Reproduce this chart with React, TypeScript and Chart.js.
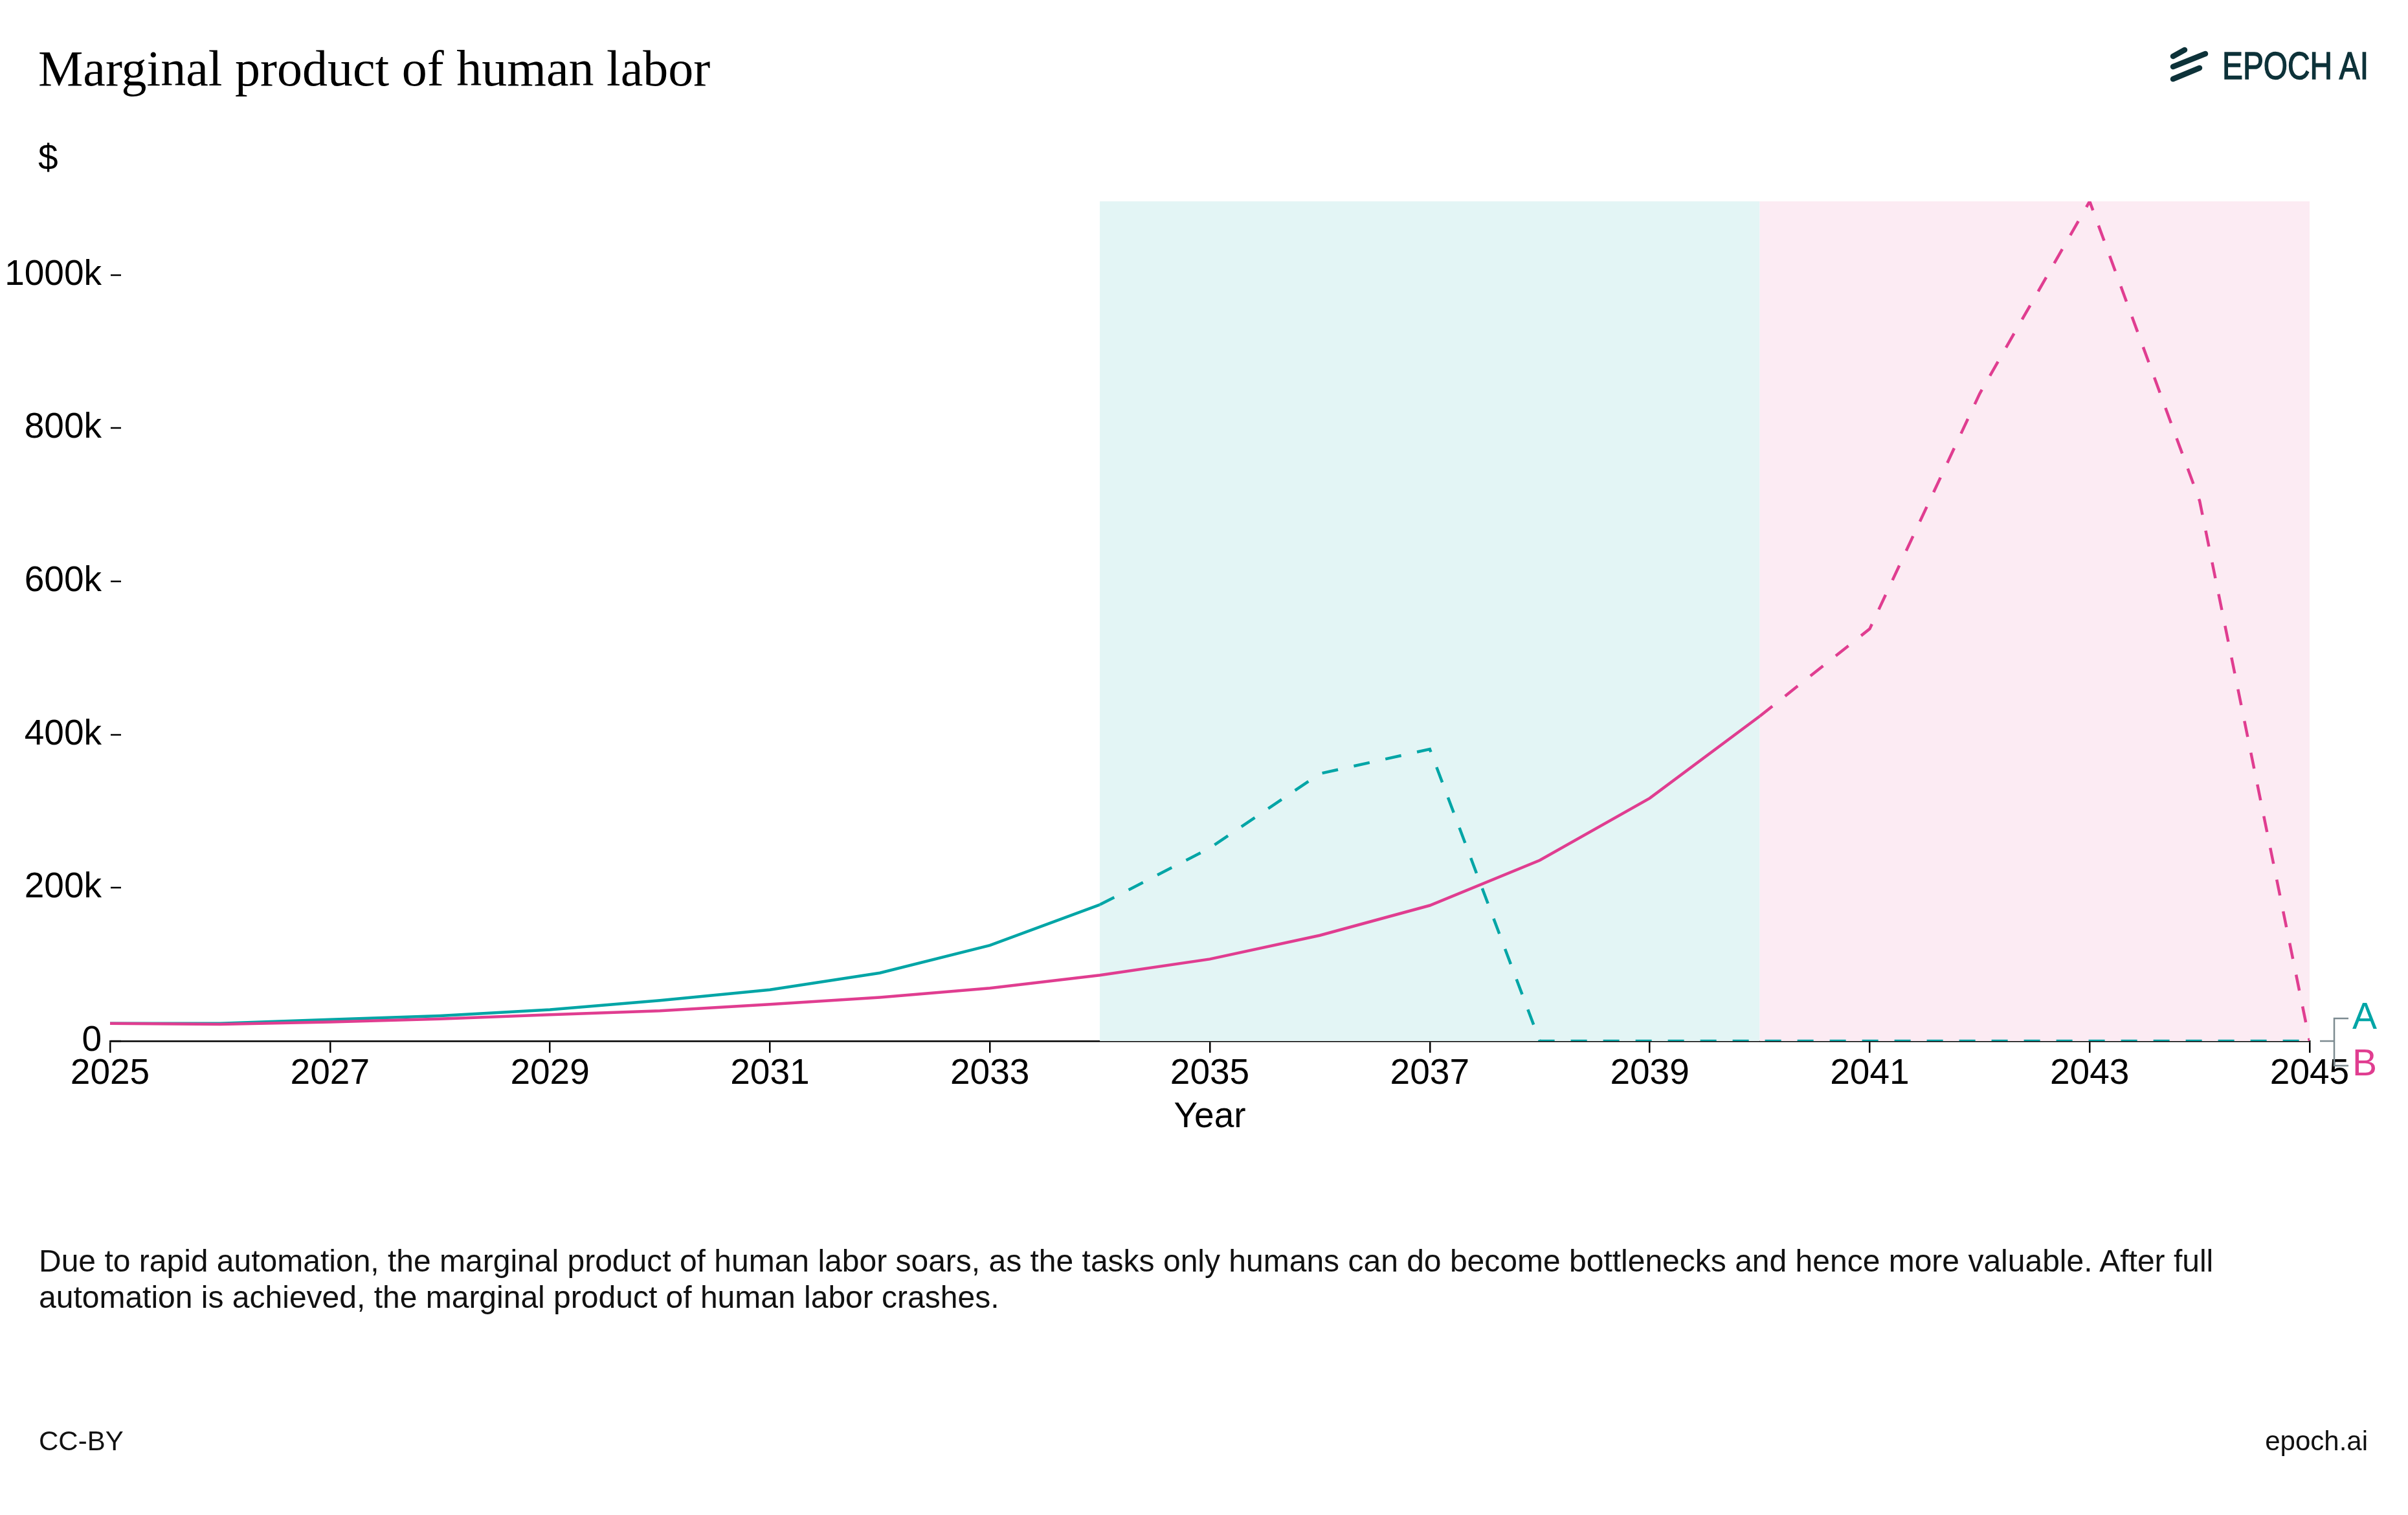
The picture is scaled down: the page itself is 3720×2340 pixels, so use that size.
import React, { useEffect, useRef } from 'react';
import { Chart, registerables } from 'chart.js';

Chart.register(...registerables);

// ---------- data ----------
const years = [2025, 2026, 2027, 2028, 2029, 2030, 2031, 2032, 2033, 2034, 2035, 2036, 2037, 2038, 2039, 2040, 2041, 2042, 2043, 2044, 2045];
const seriesNames = ['A', 'B'];
const seriesA = [23000, 23000, 28000, 33000, 41000, 53000, 67000, 89000, 125000, 178000, 252000, 349000, 381000, 0, 0, 0, 0, 0, 0, 0, 0];
const seriesB = [23000, 22000, 25000, 29000, 34500, 39500, 48000, 57000, 69000, 86000, 107000, 138000, 177000, 236000, 317000, 424000, 538000, 845000, 1096000, 705000, 0];
const dashStartYears = [2034, 2040];
const phaseStarts = [2034, 2040];
const phaseEnds = [2040, 2045];
const xTickValues = [2025, 2027, 2029, 2031, 2033, 2035, 2037, 2039, 2041, 2043, 2045];
const yTickValues = [0, 200000, 400000, 600000, 800000, 1000000];
const yMin = 0;
const yMax = 1096000;

// ---------- styles ----------
const SANS = '"Liberation Sans", Arial, Helvetica, sans-serif';
const SERIF = '"Liberation Serif", "Times New Roman", serif';
const lineColors = ['#00A5A6', '#E03D90'];
const phaseColors = ['#E3F5F5', '#FCEBF3'];
const bracketColor = '#7D8B91';

const phasePlugin = {
  id: 'phases',
  beforeDatasetsDraw(chart: any) {
    const { ctx, chartArea } = chart;
    const x = chart.scales.x;
    const y = chart.scales.y;
    ctx.save();
    const yTop = y.getPixelForValue(yMax);
    const yBot = y.getPixelForValue(yMin);
    phaseStarts.forEach((s, i) => {
      const x0 = x.getPixelForValue(s);
      const x1 = x.getPixelForValue(phaseEnds[i]);
      ctx.fillStyle = phaseColors[i];
      ctx.fillRect(x0, yTop, x1 - x0, yBot - yTop);
    });
    // inward y tick marks
    ctx.strokeStyle = '#000';
    ctx.lineWidth = 2.5;
    y.ticks.forEach((t: any) => {
      const py = Math.round(y.getPixelForValue(t.value));
      ctx.beginPath();
      ctx.moveTo(chartArea.left + 1, py);
      ctx.lineTo(chartArea.left + 17, py);
      ctx.stroke();
    });
    ctx.restore();
  },
};

const endLabelPlugin = {
  id: 'endLabels',
  afterDatasetsDraw(chart: any) {
    const { ctx } = chart;
    const x = chart.scales.x;
    const y = chart.scales.y;
    const xe = x.getPixelForValue(years[years.length - 1]);
    const y0 = y.getPixelForValue(seriesA[seriesA.length - 1]);
    ctx.save();
    ctx.strokeStyle = bracketColor;
    ctx.lineWidth = 2.5;
    ctx.beginPath();
    ctx.moveTo(xe + 16, y0);
    ctx.lineTo(xe + 38, y0);
    ctx.moveTo(xe + 60, y0 - 35);
    ctx.lineTo(xe + 38, y0 - 35);
    ctx.lineTo(xe + 38, y0 + 38);
    ctx.lineTo(xe + 60, y0 + 38);
    ctx.stroke();
    ctx.font = `57px ${SANS}`;
    ctx.textBaseline = 'alphabetic';
    ctx.textAlign = 'left';
    ctx.fillStyle = lineColors[0];
    ctx.fillText(seriesNames[0], xe + 66, y0 - 19);
    ctx.fillStyle = lineColors[1];
    ctx.fillText(seriesNames[1], xe + 66, y0 + 53);
    ctx.restore();
  },
};

function ChartCanvas() {
  const ref = useRef<HTMLCanvasElement | null>(null);
  useEffect(() => {
    if (!ref.current) return;
    const mk = (vals: number[]) => years.map((yr, i) => ({ x: yr, y: vals[i] }));
    const dashAfter = (start: number) => (ctx: any) => (ctx.p0.parsed.x >= start ? [25, 25] : undefined);
    const chart = new Chart(ref.current, {
      type: 'line',
      data: {
        datasets: [
          {
            label: seriesNames[1],
            data: mk(seriesB),
            borderColor: lineColors[1],
            borderWidth: 4.5,
            pointRadius: 0,
            order: 0,
            segment: { borderDash: dashAfter(dashStartYears[1]) },
          },
          {
            label: seriesNames[0],
            data: mk(seriesA),
            borderColor: lineColors[0],
            borderWidth: 4.5,
            pointRadius: 0,
            order: 1,
            segment: { borderDash: dashAfter(dashStartYears[0]) },
          },
        ],
      },
      options: {
        animation: false,
        responsive: false,
        devicePixelRatio: 1,
        events: [],
        layout: { padding: { top: 311, right: 152, bottom: 581, left: 0 } },
        plugins: { legend: { display: false }, tooltip: { enabled: false }, title: { display: false } },
        scales: {
          x: {
            type: 'linear',
            min: years[0],
            max: years[years.length - 1],
            afterBuildTicks: (s: any) => {
              s.ticks = xTickValues.map((v) => ({ value: v }));
            },
            afterFit: (s: any) => {
              s.height = 151;
            },
            ticks: {
              callback: (v: any) => String(v),
              font: { family: SANS, size: 55 },
              color: '#000',
              padding: 0,
              maxRotation: 0,
              autoSkip: false,
            },
            grid: { display: true, drawOnChartArea: false, drawTicks: true, tickLength: 18, color: '#000', lineWidth: 2.5 },
            border: { display: true, color: '#000', width: 2.5 },
            title: { display: true, text: 'Year', font: { family: SANS, size: 55 }, color: '#000', padding: 0 },
          },
          y: {
            type: 'linear',
            min: yMin,
            max: yMax,
            afterBuildTicks: (s: any) => {
              s.ticks = yTickValues.map((v) => ({ value: v }));
            },
            afterFit: (s: any) => {
              s.width = 170;
            },
            ticks: {
              callback: (v: any) => (v === 0 ? '0' : `${v / 1000}k`),
              font: { family: SANS, size: 55 },
              color: '#000',
              padding: 13,
            },
            grid: { display: false, drawTicks: false },
            border: { display: false },
          },
        },
      } as any,
      plugins: [phasePlugin, endLabelPlugin],
    });
    return () => chart.destroy();
  }, []);
  return (
    <canvas
      ref={ref}
      width={3720}
      height={2340}
      style={{ position: 'fixed', left: 0, top: 0, width: 3720, height: 2340 }}
    />
  );
}

export default function App() {
  const abs = (o: React.CSSProperties): React.CSSProperties => ({ position: 'fixed', margin: 0, whiteSpace: 'nowrap', ...o });
  return (
    <div style={{ position: 'fixed', left: 0, top: 0, width: 3720, height: 2340, background: '#fff', overflow: 'hidden' }}>
      <ChartCanvas />
      <div style={abs({ left: 59, top: 67, fontFamily: SERIF, fontSize: 78, lineHeight: '78px', color: '#000' })}>
        Marginal product of human labor
      </div>
      <svg style={abs({ left: 3340, top: 60 })} width={340} height={80} viewBox="0 0 340 80">
        <g stroke="#0D3239" strokeWidth={8.5} strokeLinecap="round">
          <line x1={17} y1={27} x2={35} y2={17} />
          <line x1={17} y1={43} x2={67} y2={23} />
          <line x1={17} y1={62} x2={58} y2={45} />
        </g>
        <text
          x={93}
          y={62}
          fontFamily={SANS}
          fontSize={60}
          fill="#0D3239"
          stroke="#0D3239"
          strokeWidth={1.5}
          textLength={226}
          lengthAdjust="spacingAndGlyphs"
        >
          EPOCH AI
        </text>
      </svg>
      <div style={abs({ left: 59, top: 216, fontFamily: SANS, fontSize: 55, lineHeight: '55px', color: '#000' })}>$</div>
      <div style={abs({ left: 60, top: 1920, fontFamily: SANS, fontSize: 48, lineHeight: '56px', color: '#111' })}>
        Due to rapid automation, the marginal product of human labor soars, as the tasks only humans can do become bottlenecks and hence more valuable. After full
        <br />
        automation is achieved, the marginal product of human labor crashes.
      </div>
      <div style={abs({ left: 60, top: 2205, fontFamily: SANS, fontSize: 42, lineHeight: '42px', color: '#111' })}>CC-BY</div>
      <div style={abs({ right: 62, top: 2205, fontFamily: SANS, fontSize: 42, lineHeight: '42px', color: '#111' })}>epoch.ai</div>
    </div>
  );
}
